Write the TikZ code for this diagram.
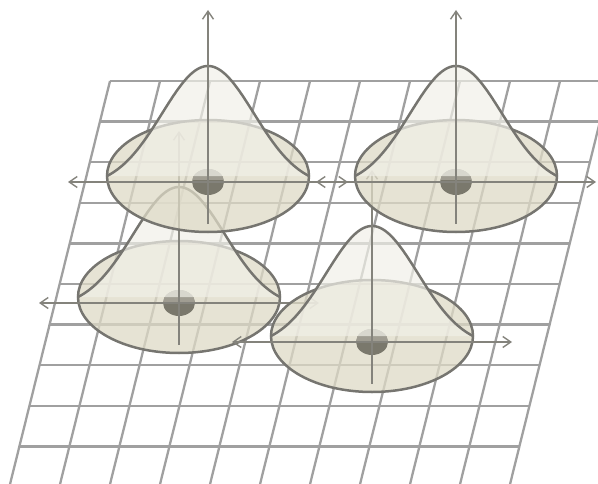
\documentclass[tikz,border=0pt]{standalone}
\usetikzlibrary{arrows.meta}
\definecolor{gridc}{RGB}{160,160,160}
\definecolor{outl}{RGB}{118,117,112}
\definecolor{axisc}{RGB}{132,131,124}
\definecolor{ellf}{RGB}{222,218,198}
\definecolor{bellf}{RGB}{241,240,232}
\definecolor{dotdark}{RGB}{122,120,108}
\definecolor{dotlight}{RGB}{160,157,146}
\tikzset{
  gridline/.style={draw=gridc, line width=2.3bp},
  outline/.style={draw=outl, line width=2.5bp},
  ellfill/.style={fill=ellf, fill opacity=0.75},
  bellfill/.style={fill=bellf, fill opacity=0.7},
  axisline/.style={draw=axisc, line width=1.4bp, -{Straight Barb[length=8bp,width=11bp]}},
  axisboth/.style={draw=axisc, line width=1.4bp, {Straight Barb[length=8bp,width=11bp]}-{Straight Barb[length=8bp,width=11bp]}},
}
\newcommand\gbump[2]{%
  \begin{scope}[shift={(#1,#2)}]
    \fill[ellfill] (0,0) ellipse [x radius=101bp, y radius=56bp];
    \draw[outline] (0,0) ellipse [x radius=101bp, y radius=56bp];
    \fill[dotdark] (0,6) ellipse [x radius=16bp, y radius=13bp];
    \begin{scope}
      \clip (-20,-20) rectangle (20,4);
      \fill[dotlight] (0,6) ellipse [x radius=16bp, y radius=13bp];
    \end{scope}
    \fill[bellfill] plot[domain=-101:101, samples=80, smooth] ({\x},{-120.85*(exp(-(\x*\x)/4232)-0.0898)}) -- cycle;
    \draw[outline] plot[domain=-101:101, samples=80, smooth] ({\x},{-120.85*(exp(-(\x*\x)/4232)-0.0898)});
    \draw[axisboth] (-140,6) -- (140,6);
    \draw[axisline] (0,48) -- (0,-166);
  \end{scope}}
\begin{document}
\begin{tikzpicture}[x=1bp,y=-1bp]
\useasboundingbox (0,0) rectangle (598,484);
\begin{scope}
  \clip (0,0) rectangle (598,484);
  \foreach \k in {0,...,9} {
    \draw[gridline] ({110-0.248*40.6*\k},{81+40.6*\k}) -- ({610-0.248*40.6*\k},{81+40.6*\k});
  }
  \foreach \i in {0,...,10} {
    \draw[gridline] ({110+50*\i},81) -- ({110+50*\i-103.9},500);
  }
\end{scope}
\gbump{179}{297}
\gbump{372}{336}
\gbump{208}{176}
\gbump{456}{176}
\end{tikzpicture}
\end{document}
